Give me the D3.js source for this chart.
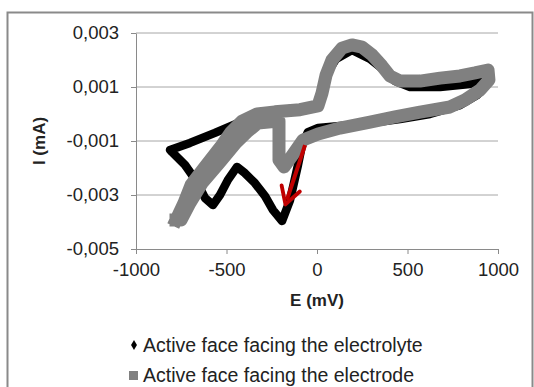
<!DOCTYPE html>
<html>
<head>
<meta charset="utf-8">
<script src="https://cdn.jsdelivr.net/npm/d3@7"></script>
<style>
  body { margin: 0; background: #fff; }
  svg { display: block; font-family: "Liberation Sans", Arial, sans-serif; }
</style>
</head>
<body>
<script>
// Cyclic voltammograms (E in mV, I in mA)
const electrolyteE = [-812, -702, -564, -425, -304, -149, -6, 28, 55, 105, 193, 293, 376, 431, 514, 680, 845, 912, 945,
  939, 884, 790, 624, 459, 293, 127, 6, -50, -83, -105, -149, -193, -243, -287, -343, -398, -442, -492, -536, -575, -619, -663, -729, -801];
const electrolyteI = [-0.00133, -0.00107, -0.0007, -0.0003, 0.00004, 0.00019, 0.00026, 0.00074, 0.0015, 0.00204, 0.00237, 0.00204, 0.0016, 0.00122, 0.001, 0.001, 0.00111, 0.0013, 0.00141,
  0.00111, 0.0007, 0.00033, 0.0, -0.00019, -0.00033, -0.00044, -0.00052, -0.00067, -0.00115, -0.00189, -0.00319, -0.00396, -0.00356, -0.00304, -0.00256, -0.00219, -0.00196, -0.00244, -0.003, -0.00337, -0.00311, -0.00252, -0.00189, -0.00141];

const electrodeE = [-779, -735, -696, -624, -525, -475, -414, -331, -232, -94, 5, 28, 50, 83, 138, 193, 249, 304, 359, 403, 459, 569, 680, 790, 873, 945,
  950, 901, 818, 735, 569, 431, 293, 127, 6, -77, -133, -182, -210, -210, -210, -326, -387, -448, -536, -635, -702, -751, -779];
const electrodeI = [-0.00393, -0.0033, -0.00263, -0.002, -0.00115, -0.00067, -0.00026, 0.0, 0.00008, 0.00016, 0.0003, 0.00078, 0.00144, 0.002, 0.00244, 0.00256, 0.00248, 0.00219, 0.00178, 0.00141, 0.00122, 0.00122, 0.00133, 0.00141, 0.00152, 0.00163,
  0.00126, 0.00089, 0.00052, 0.00026, 0.00007, -0.00011, -0.0003, -0.00052, -0.00074, -0.00096, -0.0015, -0.00196, -0.0017, -0.00096, -0.00026, -0.00033, -0.00067, -0.00107, -0.00178, -0.00256, -0.0033, -0.00393, -0.00393];

const seriesNames = ["Active face facing the electrolyte", "Active face facing the electrode"];
const xTicks = [-1000, -500, 0, 500, 1000];
const yTicks = [0.003, 0.001, -0.001, -0.003, -0.005];
// red arrow annotation: [E, I] start and end
const arrowFrom = [-66, -0.00115];
const arrowTo = [-166, -0.00318];

const W = 534, H = 387;
const margin = { top: 33, right: 36, bottom: 138, left: 136 };

const svg = d3.select("body").append("svg")
  .attr("width", W)
  .attr("height", H);

// outer chart frame
svg.append("rect")
  .attr("x", 7.5).attr("y", 12.5)
  .attr("width", 525).attr("height", 400)
  .attr("fill", "none")
  .attr("stroke", "#8a8a8a")
  .attr("stroke-width", 2);

const x = d3.scaleLinear().domain([-1000, 1000]).range([margin.left, W - margin.right]);
const y = d3.scaleLinear().domain([-0.005, 0.003]).range([H - margin.bottom, margin.top]);

// gridlines
svg.append("g")
  .selectAll("line")
  .data(yTicks.filter(d => d !== -0.005))
  .enter().append("line")
  .attr("x1", x(-1000)).attr("x2", x(1000))
  .attr("y1", d => y(d)).attr("y2", d => y(d))
  .attr("stroke", "#a6a6a6")
  .attr("stroke-width", 1);

const fmtY = d => d.toFixed(3).replace(".", ",");

const xAxis = svg.append("g")
  .attr("transform", `translate(0,${y(-0.005)})`)
  .call(d3.axisBottom(x).tickValues(xTicks).tickFormat(d => String(d)).tickSize(5).tickSizeOuter(0));

const yAxis = svg.append("g")
  .attr("transform", `translate(${x(-1000)},0)`)
  .call(d3.axisLeft(y).tickValues(yTicks).tickFormat(fmtY).tickSize(5).tickSizeOuter(0));

[xAxis, yAxis].forEach(g => {
  g.select(".domain").attr("stroke", "#8a8a8a");
  g.selectAll(".tick line").attr("stroke", "#8a8a8a");
  g.selectAll(".tick text")
    .attr("fill", "#222")
    .attr("font-size", 18.5)
    .attr("font-family", "Liberation Sans, Arial, sans-serif");
});
xAxis.selectAll(".tick text").attr("dy", "1.0em");
yAxis.selectAll(".tick text").attr("x", -17);

// axis titles
svg.append("text")
  .attr("x", x(0))
  .attr("y", 306)
  .attr("text-anchor", "middle")
  .attr("font-size", 17)
  .attr("font-weight", "bold")
  .attr("fill", "#222")
  .text("E (mV)");

svg.append("text")
  .attr("transform", `translate(45,${y(-0.001)}) rotate(-90)`)
  .attr("text-anchor", "middle")
  .attr("font-size", 17)
  .attr("font-weight", "bold")
  .attr("fill", "#222")
  .text("I (mA)");

// series
const line = d3.line().x(d => x(d[0])).y(d => y(d[1]));

const electrolyte = electrolyteE.map((e, i) => [e, electrolyteI[i]]);
const electrode = electrodeE.map((e, i) => [e, electrodeI[i]]);

svg.append("path")
  .datum(electrolyte.concat([electrolyte[0]]))
  .attr("d", line)
  .attr("fill", "none")
  .attr("stroke", "#000")
  .attr("stroke-width", 8.5)
  .attr("stroke-linejoin", "round")
  .attr("stroke-linecap", "round");

svg.append("path")
  .datum(electrode)
  .attr("d", line)
  .attr("fill", "none")
  .attr("stroke", "#808080")
  .attr("stroke-width", 13)
  .attr("stroke-linejoin", "round")
  .attr("stroke-linecap", "square");

// red arrow
const defs = svg.append("defs");
defs.append("marker")
  .attr("id", "arrow")
  .attr("viewBox", "0 0 10 10")
  .attr("refX", 6).attr("refY", 5)
  .attr("markerWidth", 6).attr("markerHeight", 6)
  .attr("orient", "auto")
  .append("path")
  .attr("d", "M1,1 L8,5 L1,9")
  .attr("fill", "none")
  .attr("stroke", "#c00000")
  .attr("stroke-width", 1.6)
  .attr("stroke-linecap", "round")
  .attr("stroke-linejoin", "round");

svg.append("line")
  .attr("x1", x(arrowFrom[0])).attr("y1", y(arrowFrom[1]))
  .attr("x2", x(arrowTo[0])).attr("y2", y(arrowTo[1]))
  .attr("stroke", "#c00000")
  .attr("stroke-width", 4)
  .attr("marker-end", "url(#arrow)");

// legend
const legend = svg.append("g").attr("transform", "translate(134,0)");
legend.append("path")
  .attr("transform", "translate(0,345)")
  .attr("d", d3.symbol(d3.symbolDiamond, 30))
  .attr("fill", "#000");
legend.append("rect")
  .attr("x", -5).attr("y", 371)
  .attr("width", 9).attr("height", 9)
  .attr("fill", "#808080");
legend.selectAll("text.lbl")
  .data(seriesNames)
  .enter().append("text")
  .attr("class", "lbl")
  .attr("x", 9)
  .attr("y", (d, i) => 352 + i * 30)
  .attr("font-size", 19.5)
  .attr("fill", "#222")
  .text(d => d);
</script>
</body>
</html>
